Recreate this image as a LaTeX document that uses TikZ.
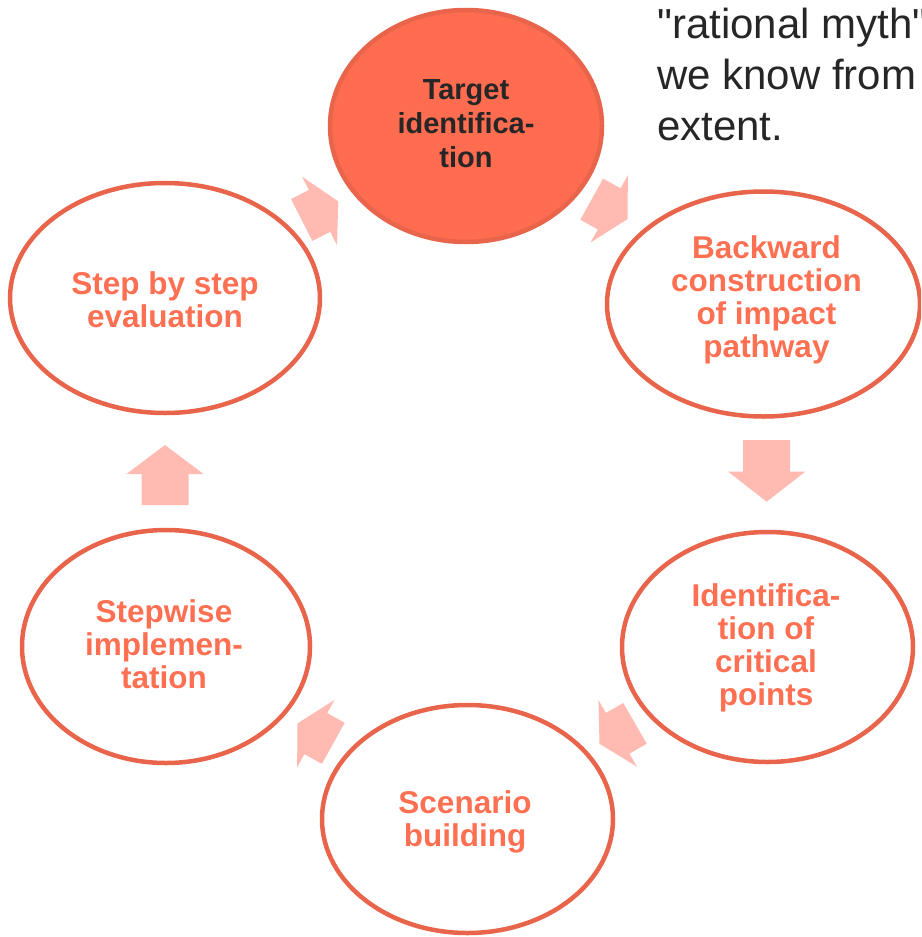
\documentclass[tikz,border=0pt]{standalone}
\usepackage{fontspec}
\setmainfont{Liberation Sans}
% same face without TeX ligature mapping, so " stays a straight quote
\newfontfamily\notefont{Liberation Sans}
\usetikzlibrary{shapes.geometric}

\definecolor{ringline}{HTML}{E8644B}
\definecolor{ringtext}{HTML}{FF6F52}
\definecolor{hotfill}{HTML}{FF6C50}
\definecolor{arrowpink}{HTML}{FFBAB2}
\definecolor{inkdark}{HTML}{262626}

\tikzset{
  ring/.style={ellipse, draw=ringline, line width=4.5pt, inner sep=0pt, outer sep=0pt},
  ringlabel/.style={align=center, text=ringtext, inner sep=0pt,
    font=\bfseries\fontsize{31.5}{33}\selectfont},
  pics/blockarrow/.style n args={2}{code={
    % shaft of length #1, head of length #2, pointing along local x
    \fill[arrowpink] (0,-23.5) -- (#1,-23.5) -- (#1,-38.5) -- ({#1+#2},0)
      -- (#1,38.5) -- (#1,23.5) -- (0,23.5) -- cycle;
  }}
}

\begin{document}
\begin{tikzpicture}[x=1pt, y=-1pt]
  \useasboundingbox (0,0) rectangle (921,937);
  \clip (0,0) rectangle (921,937);

  % side note, running past the right edge
  \node[anchor=north west, align=left, inner sep=0pt, text=inkdark,
        font=\notefont\fontsize{42}{51}\selectfont] (note) at (657,7.5)
        {"rational myth"\\we know from\\extent.};

  % cycle arrows
  \pic[rotate=27]   at (301.7,220)   {blockarrow={20}{21}};
  \pic[rotate=-29]  at (591.7,199.2) {blockarrow={20}{21}};
  \pic[rotate=-90]  at (766.7,440)   {blockarrow={31.7}{30}};
  \pic[rotate=-150] at (635,723.3)   {blockarrow={20}{21}};
  \pic[rotate=151]  at (333.3,743.3) {blockarrow={20}{21}};
  \pic[rotate=90]   at (165,505)     {blockarrow={31}{29}};

  % stages of the cycle
  \node[ring, fill=hotfill, minimum width=272pt, minimum height=232pt] (target) at (466,126) {};
  \node[ring, minimum width=313pt, minimum height=225pt] (backward) at (763.5,304) {};
  \node[ring, minimum width=291pt, minimum height=230pt] (critical) at (767.5,647) {};
  \node[ring, minimum width=291pt, minimum height=228pt] (scenario) at (467.5,819) {};
  \node[ring, minimum width=288pt, minimum height=233pt] (stepwise) at (166,646.5) {};
  \node[ring, minimum width=310pt, minimum height=230pt] (evaluation) at (165,298) {};

  % stage labels
  \node[align=center, inner sep=0pt, text=inkdark,
        font=\bfseries\fontsize{29}{34}\selectfont] (targettext) at (466,124)
        {Target\\identifica-\\tion};
  \node[ringlabel] (backwardtext) at (766.5,300) {Backward\\construction\\of impact\\pathway};
  \node[ringlabel] (criticaltext) at (766,648) {Identifica-\\tion of\\critical\\points};
  \node[ringlabel] (scenariotext) at (465,822) {Scenario\\building};
  \node[ringlabel] (stepwisetext) at (164,644) {Stepwise\\implemen-\\tation};
  \node[ringlabel] (evaluationtext) at (165,300) {Step by step\\evaluation};
\end{tikzpicture}
\end{document}
